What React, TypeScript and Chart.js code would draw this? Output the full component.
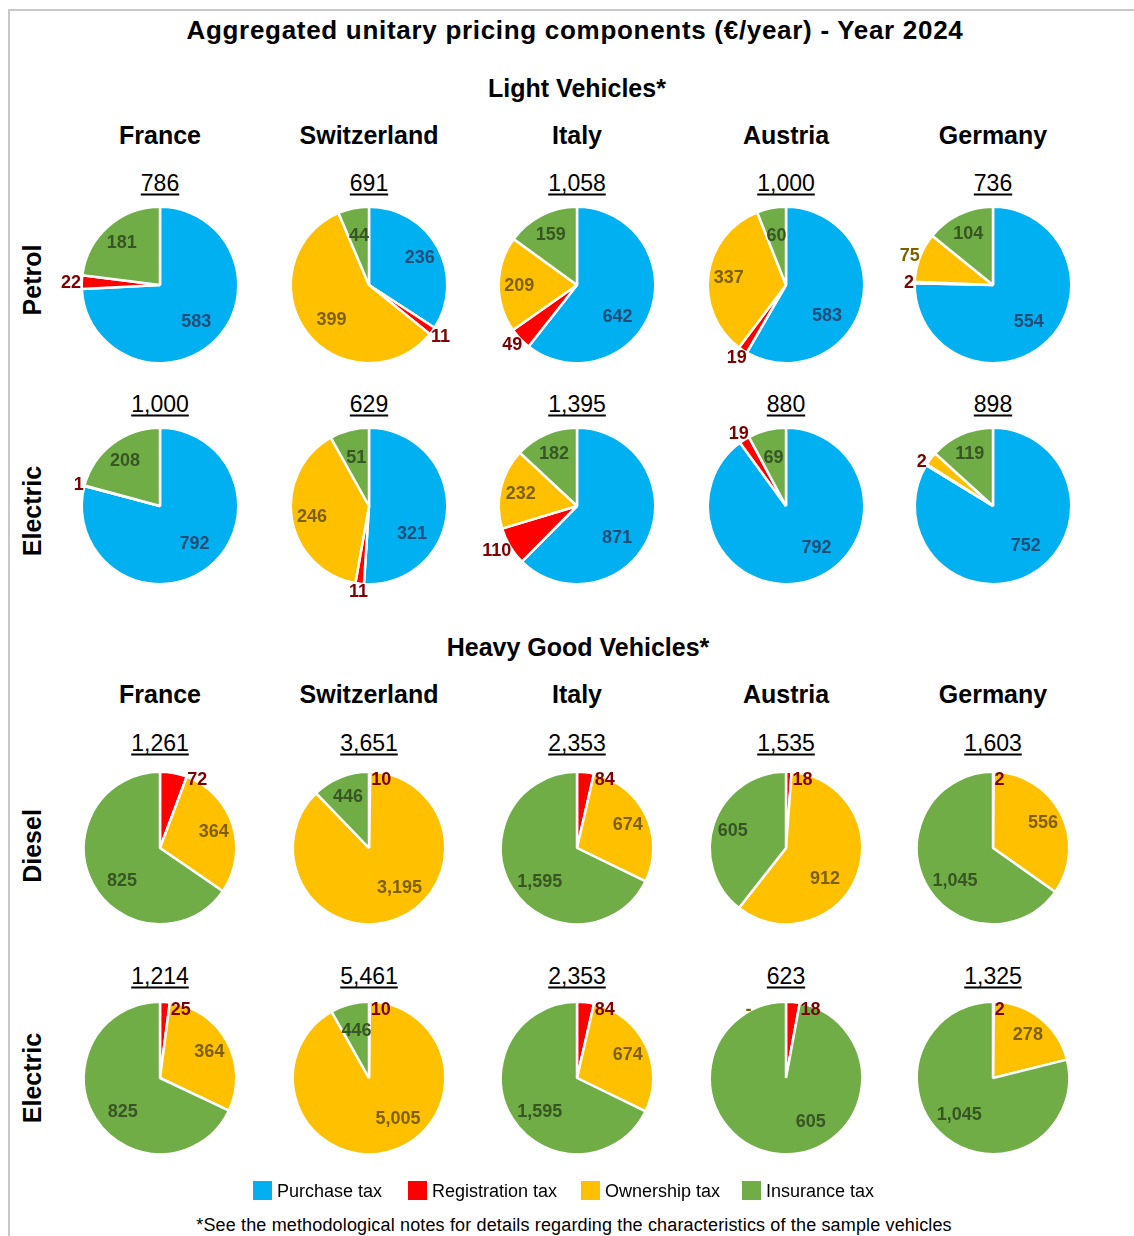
import React, { useEffect, useRef } from 'react';
import { Chart, PieController, ArcElement } from 'chart.js';

Chart.register(PieController, ArcElement);

const FONT = "'Liberation Sans', Arial, Helvetica, sans-serif";

const COUNTRIES = ['France', 'Switzerland', 'Italy', 'Austria', 'Germany'];
const COMPONENTS = ['Purchase tax', 'Registration tax', 'Ownership tax', 'Insurance tax'];
const SLICE_COLORS = ['#00B0F0', '#FF0000', '#FFC000', '#70AD47'];
const LABEL_COLORS = ['#1F4E79', '#7F0000', '#7F6000', '#375623'];

// €/year per country (France, Switzerland, Italy, Austria, Germany).
// null = component not levied (no slice, no label); 0 = levied at zero, shown as "-".

// Light vehicles – petrol
const LV_PETROL_PURCHASE = [583, 236, 642, 583, 554];
const LV_PETROL_REGISTRATION = [22, 11, 49, 19, 2];
const LV_PETROL_OWNERSHIP = [null, 399, 209, 337, 75];
const LV_PETROL_INSURANCE = [181, 44, 159, 60, 104];
const LV_PETROL_TOTAL = [786, 691, 1058, 1000, 736];

// Light vehicles – electric
const LV_ELECTRIC_PURCHASE = [792, 321, 871, 792, 752];
const LV_ELECTRIC_REGISTRATION = [1, 11, 110, 19, 2];
const LV_ELECTRIC_OWNERSHIP = [null, 246, 232, null, 25];
const LV_ELECTRIC_INSURANCE = [208, 51, 182, 69, 119];
const LV_ELECTRIC_TOTAL = [1000, 629, 1395, 880, 898];

// Heavy good vehicles – diesel
const HGV_DIESEL_PURCHASE = [null, null, null, null, null];
const HGV_DIESEL_REGISTRATION = [72, 10, 84, 18, 2];
const HGV_DIESEL_OWNERSHIP = [364, 3195, 674, 912, 556];
const HGV_DIESEL_INSURANCE = [825, 446, 1595, 605, 1045];
const HGV_DIESEL_TOTAL = [1261, 3651, 2353, 1535, 1603];

// Heavy good vehicles – electric
const HGV_ELECTRIC_PURCHASE = [null, null, null, null, null];
const HGV_ELECTRIC_REGISTRATION = [25, 10, 84, 18, 2];
const HGV_ELECTRIC_OWNERSHIP = [364, 5005, 674, 0, 278];
const HGV_ELECTRIC_INSURANCE = [825, 446, 1595, 605, 1045];
const HGV_ELECTRIC_TOTAL = [1214, 5461, 2353, 623, 1325];

// Slice labels left off the chart: "row|country|component"
const HIDDEN_LABELS = ['LV-Electric|Germany|Ownership tax'];

type Val = number | null;

interface RowDef {
  key: string;
  label: string;
  series: Val[][];
  totals: number[];
  cy: number;
  totalY: number;
  radius: number;
}

const COL_X = [160, 369, 577, 786, 993];
const BORDER = 2.5;

const ROWS: RowDef[] = [
  {
    key: 'LV-Petrol', label: 'Petrol',
    series: [LV_PETROL_PURCHASE, LV_PETROL_REGISTRATION, LV_PETROL_OWNERSHIP, LV_PETROL_INSURANCE],
    totals: LV_PETROL_TOTAL, cy: 285, totalY: 183, radius: 77,
  },
  {
    key: 'LV-Electric', label: 'Electric',
    series: [LV_ELECTRIC_PURCHASE, LV_ELECTRIC_REGISTRATION, LV_ELECTRIC_OWNERSHIP, LV_ELECTRIC_INSURANCE],
    totals: LV_ELECTRIC_TOTAL, cy: 506, totalY: 404, radius: 77,
  },
  {
    key: 'HGV-Diesel', label: 'Diesel',
    series: [HGV_DIESEL_PURCHASE, HGV_DIESEL_REGISTRATION, HGV_DIESEL_OWNERSHIP, HGV_DIESEL_INSURANCE],
    totals: HGV_DIESEL_TOTAL, cy: 848, totalY: 743, radius: 75,
  },
  {
    key: 'HGV-Electric', label: 'Electric',
    series: [HGV_ELECTRIC_PURCHASE, HGV_ELECTRIC_REGISTRATION, HGV_ELECTRIC_OWNERSHIP, HGV_ELECTRIC_INSURANCE],
    totals: HGV_ELECTRIC_TOTAL, cy: 1078, totalY: 976, radius: 75,
  },
];

const CANVAS_W = 208;
const CANVAS_H = 220;

function makeLabelPlugin(values: Val[], hidden: boolean[]) {
  return {
    id: 'sliceLabels',
    afterDatasetsDraw(chart: any) {
      const ctx: CanvasRenderingContext2D = chart.ctx;
      const meta = chart.getDatasetMeta(0);
      const total = values.reduce<number>((s, v) => s + (v ?? 0), 0);
      const toDeg = (a: number) => (a * 180) / Math.PI;
      ctx.save();
      ctx.font = `bold 18px ${FONT}`;
      ctx.textAlign = 'center';
      ctx.textBaseline = 'middle';
      meta.data.forEach((el: any, i: number) => {
        const v = values[i];
        if (v === null || hidden[i]) return;
        const p = el.getProps(['x', 'y', 'startAngle', 'endAngle', 'outerRadius'], true);
        const r = p.outerRadius - BORDER / 2;
        const text = v === 0 ? '-' : v.toLocaleString('en-US');
        const hw = ctx.measureText(text).width / 2;
        const hh = 7;
        // angles measured clockwise from 12 o'clock
        const a0 = p.startAngle + Math.PI / 2;
        const a1 = p.endAngle + Math.PI / 2;
        const mid = (a0 + a1) / 2;
        const midDeg = toDeg(mid);
        const frac = total > 0 ? v / total : 0;
        const nearTop = midDeg > 330 || midDeg < 30;
        const at = (ang: number, d: number) => [p.x + d * Math.sin(ang), p.y - d * Math.cos(ang)];
        let lx: number;
        let ly: number;
        if (v === 0) {
          lx = p.x - (r * Math.sin(a0) + hw + 1) - 20;
          ly = p.y - r + hh - 1;
        } else if (frac >= 0.12 || (frac >= 0.06 && nearTop)) {
          if (frac > 0.5) {
            const diag = midDeg < 195 ? 135 : 225;
            const ang = ((0.3 * midDeg + 0.7 * diag) * Math.PI) / 180;
            [lx, ly] = at(ang, 0.66 * r);
          } else {
            [lx, ly] = at(mid, (frac >= 0.12 ? 0.75 : 0.66) * r);
          }
        } else if (midDeg < 20) {
          lx = p.x + r * Math.sin(a1) + hw + 1;
          ly = p.y - r + hh - 1;
        } else {
          const [ax, ay] = at(mid, r + 2);
          lx = ax + hw * Math.sin(mid);
          ly = ay - hh * Math.cos(mid);
        }
        ctx.fillStyle = LABEL_COLORS[i];
        ctx.fillText(text, lx, ly + 1);
      });
      ctx.restore();
    },
  };
}

function PieChart({ values, hidden, cx, cy, r }: { values: Val[]; hidden: boolean[]; cx: number; cy: number; r: number }) {
  const ref = useRef<HTMLCanvasElement>(null);
  useEffect(() => {
    if (!ref.current) return;
    const chart = new Chart(ref.current, {
      type: 'pie',
      data: {
        labels: COMPONENTS,
        datasets: [
          {
            data: values.map((v) => v ?? 0),
            backgroundColor: SLICE_COLORS,
            borderColor: '#FFFFFF',
            borderWidth: BORDER,
            radius: r + BORDER / 2,
          } as any,
        ],
      },
      options: {
        animation: false,
        responsive: false,
        maintainAspectRatio: false,
        events: [],
        layout: { padding: 0 },
        plugins: { legend: { display: false }, tooltip: { enabled: false } },
      },
      plugins: [makeLabelPlugin(values, hidden)],
    });
    return () => chart.destroy();
  }, []);
  return (
    <canvas
      ref={ref}
      width={CANVAS_W}
      height={CANVAS_H}
      style={{ position: 'absolute', left: cx - CANVAS_W / 2, top: cy - CANVAS_H / 2, width: CANVAS_W, height: CANVAS_H }}
    />
  );
}

function Txt({ x, y, size, bold, children, underline, rotate, spacing }: {
  x: number; y: number; size: number; bold?: boolean; children: React.ReactNode; underline?: boolean; rotate?: boolean; spacing?: number;
}) {
  return (
    <div
      style={{
        position: 'absolute',
        left: x,
        top: y,
        transform: `translate(-50%, -50%)${rotate ? ' rotate(-90deg)' : ''}`,
        fontFamily: FONT,
        fontSize: size,
        fontWeight: bold ? 'bold' : 'normal',
        letterSpacing: spacing ?? 0,
        lineHeight: 1,
        whiteSpace: 'nowrap',
        color: '#000',
        textDecoration: underline ? 'underline' : 'none',
        textUnderlineOffset: underline ? 3 : undefined,
      }}
    >
      {children}
    </div>
  );
}

const LEGEND_X = [253, 408, 581, 742];

export default function App() {
  const pies: React.ReactNode[] = [];
  const totals: React.ReactNode[] = [];
  ROWS.forEach((row) => {
    COUNTRIES.forEach((country, c) => {
      const values = row.series.map((s) => s[c]);
      const hidden = COMPONENTS.map((comp) => HIDDEN_LABELS.includes(`${row.key}|${country}|${comp}`));
      pies.push(
        <PieChart key={`${row.key}-${country}`} values={values} hidden={hidden} cx={COL_X[c]} cy={row.cy} r={row.radius} />
      );
      totals.push(
        <Txt key={`t-${row.key}-${country}`} x={COL_X[c]} y={row.totalY} size={23} underline>
          {row.totals[c].toLocaleString('en-US')}
        </Txt>
      );
    });
  });

  return (
    <div style={{ position: 'absolute', left: 0, top: 0, width: 1134, height: 1236, background: '#fff', overflow: 'hidden' }}>
      <div
        style={{
          position: 'absolute', left: 8, top: 9, width: 1200, height: 1300,
          borderLeft: '2px solid #C8C8C8', borderTop: '2px solid #C8C8C8',
        }}
      />
      <Txt x={575} y={30} size={26} bold spacing={0.7}>
        Aggregated unitary pricing components (€/year) - Year 2024
      </Txt>
      <Txt x={577} y={88} size={25} bold>Light Vehicles*</Txt>
      <Txt x={578} y={647} size={25} bold>Heavy Good Vehicles*</Txt>
      {COUNTRIES.map((c, i) => (
        <Txt key={`h1-${c}`} x={COL_X[i]} y={135} size={25} bold>{c}</Txt>
      ))}
      {COUNTRIES.map((c, i) => (
        <Txt key={`h2-${c}`} x={COL_X[i]} y={694} size={25} bold>{c}</Txt>
      ))}
      <Txt x={32} y={280} size={25} bold rotate>{ROWS[0].label}</Txt>
      <Txt x={32} y={511} size={25} bold rotate>{ROWS[1].label}</Txt>
      <Txt x={32} y={846} size={25} bold rotate>{ROWS[2].label}</Txt>
      <Txt x={32} y={1078} size={25} bold rotate>{ROWS[3].label}</Txt>
      {totals}
      {pies}
      {COMPONENTS.map((comp, i) => (
        <div key={`lg-${comp}`} style={{ position: 'absolute', left: LEGEND_X[i], top: 1181, display: 'flex', alignItems: 'center', height: 19 }}>
          <div style={{ width: 19, height: 19, background: SLICE_COLORS[i], marginRight: 5 }} />
          <span style={{ fontFamily: FONT, fontSize: 18, lineHeight: 1, whiteSpace: 'nowrap', color: '#000' }}>{comp}</span>
        </div>
      ))}
      <Txt x={574} y={1225} size={18} spacing={0.15}>
        *See the methodological notes for details regarding the characteristics of the sample vehicles
      </Txt>
    </div>
  );
}
